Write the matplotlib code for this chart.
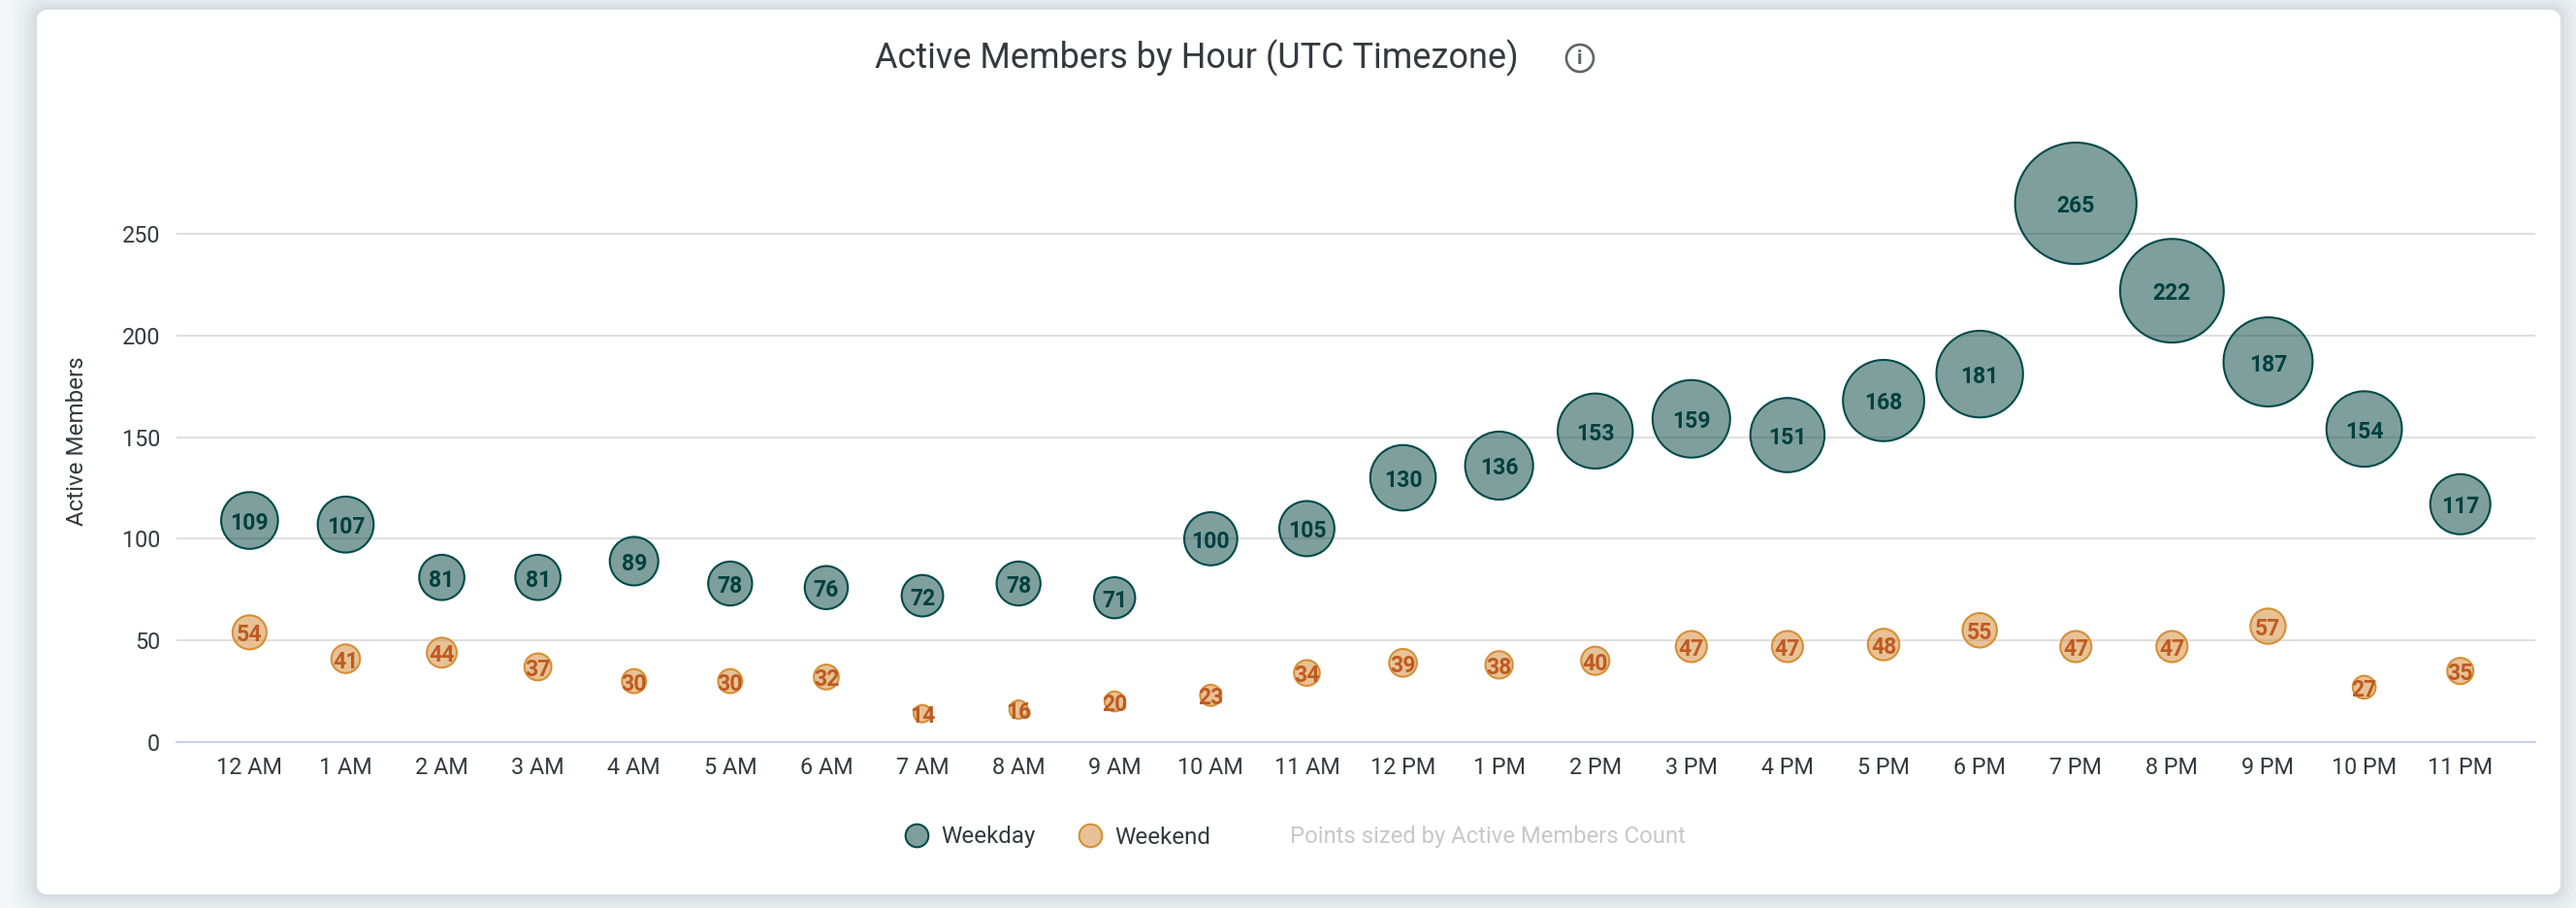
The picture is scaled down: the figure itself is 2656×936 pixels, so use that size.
import matplotlib
matplotlib.use("Agg")
import matplotlib.pyplot as plt
import numpy as np
from matplotlib.lines import Line2D
from matplotlib.patches import Circle, FancyBboxPatch

plt.rcParams['font.family'] = ['Roboto', 'DejaVu Sans']

hours = ['12 AM', '1 AM', '2 AM', '3 AM', '4 AM', '5 AM', '6 AM', '7 AM', '8 AM', '9 AM', '10 AM', '11 AM',
         '12 PM', '1 PM', '2 PM', '3 PM', '4 PM', '5 PM', '6 PM', '7 PM', '8 PM', '9 PM', '10 PM', '11 PM']
weekday = [109, 107, 81, 81, 89, 78, 76, 72, 78, 71, 100, 105,
           130, 136, 153, 159, 151, 168, 181, 265, 222, 187, 154, 117]
weekend = [54, 41, 44, 37, 30, 30, 32, 14, 16, 20, 23, 34,
           39, 38, 40, 47, 47, 48, 55, 47, 47, 57, 27, 35]
y_ticks = [0, 50, 100, 150, 200, 250]

W, H = 2656, 936
DPI = 100
TEXT = '#333a3f'
TEAL = '#004a4a'
TEAL_FILL = '#00413b'
ORANGE = '#d68f35'
ORANGE_FILL = '#d1872f'


def bubble_area(values):
    # bubble diameter grows linearly with the count, in pixels
    d = 12 + 0.427 * np.array(values)
    return (d * 72 / DPI) ** 2


fig = plt.figure(figsize=(W / DPI, H / DPI), dpi=DPI, facecolor='#f4f8fb')

# page background with the card and its soft shadow, in pixel coordinates
bg = fig.add_axes([0, 0, 1, 1], zorder=0)
bg.set_xlim(0, W)
bg.set_ylim(H, 0)
bg.axis('off')
for grow, alpha in [(30, 0.012), (24, 0.014), (18, 0.018), (13, 0.022), (8, 0.026), (4, 0.03)]:
    bg.add_patch(FancyBboxPatch((38 - grow, 10 - grow), 2602 + 2 * grow, 912 + 2 * grow,
                                boxstyle='round,pad=0,rounding_size=%d' % (12 + grow),
                                fc='#2a3a3f', ec='none', alpha=alpha))
bg.add_patch(FancyBboxPatch((38, 10), 2602, 912, boxstyle='round,pad=0,rounding_size=12',
                            fc='white', ec='none'))

# info icon next to the title
bg.add_patch(Circle((1629, 60), 14, fc='none', ec='#5f6468', lw=1.9))
bg.text(1629, 61, 'i', ha='center', va='center', fontsize=15, fontweight='bold', color='#5f6468')

# plot area: y=0 at pixel 765, y=250 at pixel 241, x from 182 to 2614
top_val = 280
top_px = 765 - top_val * (765 - 241) / 250
ax = fig.add_axes([182 / W, 1 - 765 / H, (2614 - 182) / W, (765 - top_px) / H], zorder=1)
ax.patch.set_alpha(0)
x = np.arange(len(hours))

ax.scatter(x, weekday, s=bubble_area(weekday), color=matplotlib.colors.to_rgba(TEAL_FILL, 0.5),
           edgecolors=TEAL, linewidths=1.5, zorder=3, clip_on=False)
ax.scatter(x, weekend, s=bubble_area(weekend), color=matplotlib.colors.to_rgba(ORANGE_FILL, 0.5),
           edgecolors=ORANGE, linewidths=1.5, zorder=3, clip_on=False)

for i in x:
    ax.annotate(str(weekday[i]), (i, weekday[i]), xytext=(0, -2.2), textcoords='offset points',
                ha='center', va='center', fontsize=16.6, fontweight='bold', color='#00403f', zorder=4)
    ax.annotate(str(weekend[i]), (i, weekend[i]), xytext=(0, -2.2), textcoords='offset points',
                ha='center', va='center', fontsize=16.6, fontweight='bold', color='#c05a20', zorder=4)

ax.set_xlim(-0.76, 23.78)
ax.set_ylim(0, top_val)
ax.set_xticks(x)
ax.set_xticklabels(hours)
ax.set_yticks(y_ticks)
ax.tick_params(axis='both', length=0, labelsize=16.8, labelcolor=TEXT)
ax.tick_params(axis='x', pad=11)
ax.tick_params(axis='y', pad=12)
ax.grid(True, axis='y', color='#e0e0e0', lw=1.5, zorder=1)
ax.set_axisbelow(True)
for side in ['top', 'right', 'left']:
    ax.spines[side].set_visible(False)
ax.spines['bottom'].set_color('#c5d3e6')
ax.spines['bottom'].set_linewidth(1.5)

fig.text(79 / W, 1 - 455 / H, 'Active Members', rotation=90, ha='center', va='center',
         fontsize=17.4, color=TEXT)
fig.text(1234 / W, 1 - 60 / H, 'Active Members by Hour (UTC Timezone)', ha='center', va='center',
         fontsize=25.9, color=TEXT)

handles = [
    Line2D([], [], ls='none', marker='o', ms=17, mfc=matplotlib.colors.to_rgba(TEAL_FILL, 0.5), mec=TEAL, mew=1.5),
    Line2D([], [], ls='none', marker='o', ms=17, mfc=matplotlib.colors.to_rgba(ORANGE_FILL, 0.5), mec=ORANGE, mew=1.5),
]
fig.legend(handles, ['Weekday', 'Weekend'], ncol=2, frameon=False, fontsize=17.4,
           labelcolor=TEXT, loc='center left', bbox_to_anchor=(921 / W, 1 - 863 / H),
           handletextpad=0.05, columnspacing=1.3, borderpad=0, borderaxespad=0)
fig.text(1330 / W, 1 - 863 / H, 'Points sized by Active Members Count', ha='left', va='center',
         fontsize=17.2, color='#c8c8c8')

fig.savefig('out.png', dpi=DPI)
